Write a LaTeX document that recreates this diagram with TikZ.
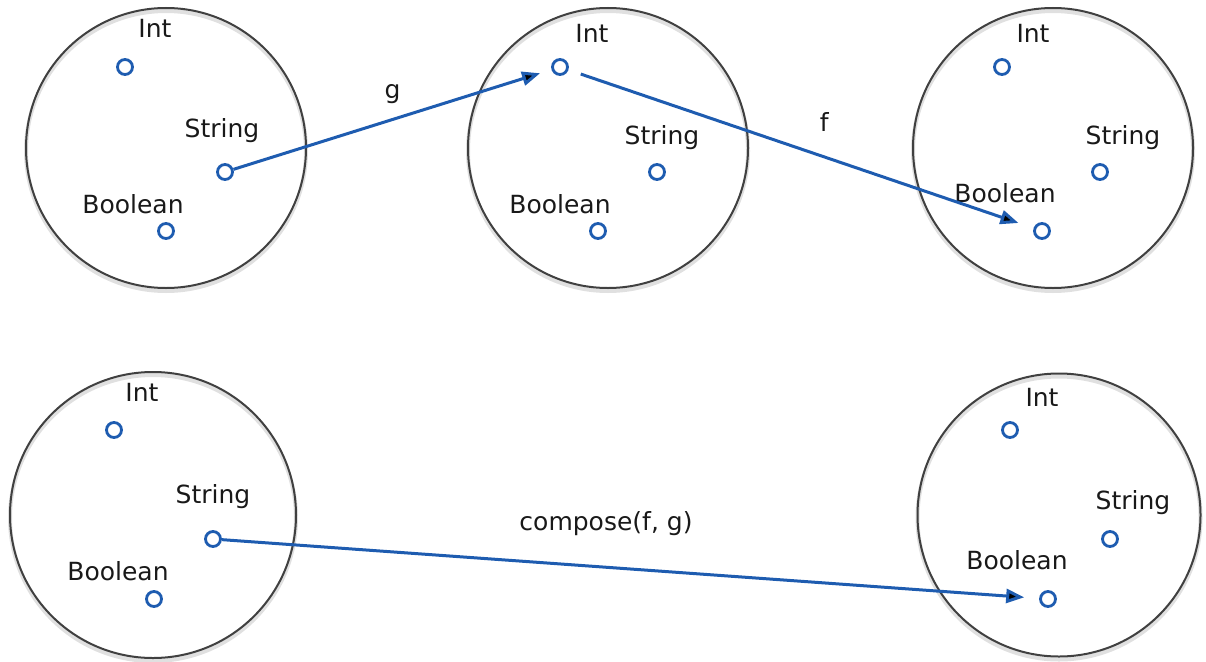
\documentclass[tikz,border=0pt]{standalone}
\usepackage{fontspec}
\setmainfont{DejaVu Sans}
\usetikzlibrary{positioning, arrows.meta}
\definecolor{dotblue}{RGB}{30,92,176}

\begin{document}
\begin{tikzpicture}[on grid, font=\fontsize{25}{29}\selectfont,
    set/.style={circle, draw=black!75, line width=2pt, minimum size=280pt, inner sep=0pt,
      preaction={draw=black!12, line width=4pt, transform canvas={yshift=-3pt}}},
    elem/.style={circle, draw=dotblue, line width=2.8pt, fill=white, minimum size=15pt, inner sep=0pt},
    tname/.style={text=black!90, inner sep=0pt},
    fn/.style={draw=dotblue, line width=3pt, -{Triangle[length=18pt,width=14pt]}}]
    \useasboundingbox (0,0) rectangle (1206pt,-661pt);

    % g and f
    \node[set] (A) at (166pt,-148pt) {};
    \node[set] (B) [right = 442pt of A] {};
    \node[set] (C) [right = 445pt of B] {};
    % compose(f, g)
    \node[set, minimum size=286pt] (D) at (153pt,-515pt) {};
    \node[set, minimum size=283pt] (E) [right = 906pt of D] {};

    \node[elem] (Ai) [above left = 81pt and 41pt of A] {};
    \node[elem] (As) [below right = 24pt and 59pt of A] {};
    \node[elem] (Ab) [below = 83pt of A] {};
    \node[elem] (Bi) [above left = 81pt and 48pt of B] {};
    \node[elem] (Bs) [below right = 24pt and 49pt of B] {};
    \node[elem] (Bb) [below left = 83pt and 10pt of B] {};
    \node[elem] (Ci) [above left = 81pt and 51pt of C] {};
    \node[elem] (Cs) [below right = 24pt and 47pt of C] {};
    \node[elem] (Cb) [below left = 83pt and 11pt of C] {};
    \node[elem] (Di) [above left = 85pt and 39pt of D] {};
    \node[elem] (Ds) [below right = 24pt and 60pt of D] {};
    \node[elem] (Db) [below right = 84pt and 1pt of D] {};
    \node[elem] (Ei) [above left = 85pt and 49pt of E] {};
    \node[elem] (Es) [below right = 24pt and 51pt of E] {};
    \node[elem] (Eb) [below left = 84pt and 11pt of E] {};

    \node[tname] (Ail) [above right = 39pt and 30pt of Ai] {Int};
    \node[tname] (Asl) [above left = 41pt and 3pt of As] {String};
    \node[tname] (Abl) [above left = 27pt and 33pt of Ab] {Boolean};
    \node[tname] (Bil) [above right = 34pt and 32pt of Bi] {Int};
    \node[tname] (Bsl) [above right = 34pt and 5pt of Bs] {String};
    \node[tname] (Bbl) [above left = 27pt and 38pt of Bb] {Boolean};
    \node[tname] (Cil) [above right = 34pt and 31pt of Ci] {Int};
    \node[tname] (Csl) [above right = 34pt and 23pt of Cs] {String};
    \node[tname] (Cbl) [above left = 38pt and 37pt of Cb] {Boolean};
    \node[tname] (Dil) [above right = 38pt and 28pt of Di] {Int};
    \node[tname] (Dsl) [above = 42pt of Ds] {String};
    \node[tname] (Dbl) [above left = 28pt and 36pt of Db] {Boolean};
    \node[tname] (Eil) [above right = 33pt and 32pt of Ei] {Int};
    \node[tname] (Esl) [above right = 36pt and 23pt of Es] {String};
    \node[tname] (Ebl) [above left = 39pt and 31pt of Eb] {Boolean};

    \path[fn]
    (As) edge[shorten >=12pt] node[tname, above=14pt] {g} (Bi)
    (Bi) edge[shorten <=13pt, shorten >=16pt] node[tname, pos=0.55, above=24pt] {f} (Cb)
    (Ds) edge[shorten >=15pt] node[tname, pos=0.47, above=30pt] {compose(f, g)} (Eb)
    ;
\end{tikzpicture}
\end{document}
